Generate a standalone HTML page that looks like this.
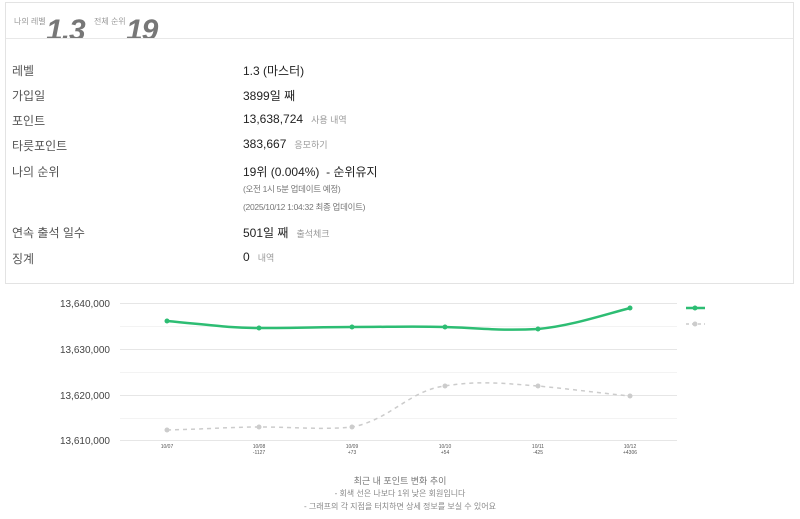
<!DOCTYPE html>
<html><head><meta charset="utf-8"><style>
body{margin:0;width:800px;height:519px;background:#fff;font-family:"Liberation Sans","Noto Sans CJK KR",sans-serif;position:relative;overflow:hidden}
.box{position:absolute;left:5px;top:2px;width:789px;height:282px;border:1px solid #e3e3e3;box-sizing:border-box}
.hdr{position:absolute;left:0;top:0;width:100%;height:35px;border-bottom:1px solid #e8e8e8;overflow:hidden}
.s{position:absolute;font-size:8px;color:#999}
.big{position:absolute;font-size:30px;font-style:italic;font-weight:bold;color:#777;letter-spacing:-1px}
.l{position:absolute;left:12px;font-size:12px;color:#555}
.v{position:absolute;left:243px;font-size:12px;color:#222}
.g{font-size:9px;color:#999;margin-left:8px}
.sm{position:absolute;left:243px;font-size:8.5px;color:#777;letter-spacing:-0.3px}
.cap{position:absolute;left:0;width:800px;text-align:center;color:#888}
</style></head><body>
<div class="box">
<div class="hdr">
<span class="s" style="left:8px;top:13px">나의 레벨</span>
<span class="big" style="left:40px;top:11px">1.3</span>
<span class="s" style="left:88px;top:13px">전체 순위</span>
<span class="big" style="left:120px;top:11px">19</span>
</div>
</div>
<div class="l" style="top:62px">레벨</div><div class="v" style="top:62px">1.3 (마스터)</div>
<div class="l" style="top:87px">가입일</div><div class="v" style="top:87px">3899일 째</div>
<div class="l" style="top:112px">포인트</div><div class="v" style="top:112px">13,638,724<span class="g">사용 내역</span></div>
<div class="l" style="top:137px">타릇포인트</div><div class="v" style="top:137px">383,667<span class="g">응모하기</span></div>
<div class="l" style="top:163px">나의 순위</div><div class="v" style="top:163px">19위 (0.004%) &nbsp;- 순위유지</div>
<div class="sm" style="top:183px">(오전 1시 5분 업데이트 예정)</div>
<div class="sm" style="top:201px">(2025/10/12 1:04:32 최종 업데이트)</div>
<div class="l" style="top:224px">연속 출석 일수</div><div class="v" style="top:224px">501일 째<span class="g">출석체크</span></div>
<div class="l" style="top:250px">징계</div><div class="v" style="top:250px">0<span class="g">내역</span></div>

<svg style="position:absolute;left:0;top:0" width="800" height="519">
<g stroke="#e6e6e6" stroke-width="1">
<line x1="120" x2="677" y1="303.5" y2="303.5"/><line x1="120" x2="677" y1="349.5" y2="349.5"/>
<line x1="120" x2="677" y1="395.5" y2="395.5"/><line x1="120" x2="677" y1="440.5" y2="440.5"/>
</g>
<g stroke="#f3f3f3"><line x1="120" x2="677" y1="326.5" y2="326.5"/><line x1="120" x2="677" y1="372.5" y2="372.5"/><line x1="120" x2="677" y1="418.5" y2="418.5"/></g>
<g font-size="10" fill="#444" text-anchor="end" font-family="Liberation Sans,sans-serif">
<text x="110" y="307">13,640,000</text><text x="110" y="353">13,630,000</text>
<text x="110" y="399">13,620,000</text><text x="110" y="444">13,610,000</text></g>
<path d="M167,430 C210,429 230,427 259,427 C300,427 320,430 352,427 C390,420 410,390 445,386 C480,380 510,384 538,386 C570,389 600,393 630,396" fill="none" stroke="#ccc" stroke-width="1.5" stroke-dasharray="4,4"/>
<g fill="#ccc"><circle cx="167" cy="430" r="2.5"/><circle cx="259" cy="427" r="2.5"/><circle cx="352" cy="427" r="2.5"/><circle cx="445" cy="386" r="2.5"/><circle cx="538" cy="386" r="2.5"/><circle cx="630" cy="396" r="2.5"/></g>
<path d="M167,321 C210,325 230,328 259,328 C300,328 320,327 352,327 C390,327 410,326 445,327 C480,328 500,331 538,329 C570,326 600,316 630,308" fill="none" stroke="#2dbd73" stroke-width="2.5"/>
<g fill="#2dbd73"><circle cx="167" cy="321" r="2.5"/><circle cx="259" cy="328" r="2.5"/><circle cx="352" cy="327" r="2.5"/><circle cx="445" cy="327" r="2.5"/><circle cx="538" cy="329" r="2.5"/><circle cx="630" cy="308" r="2.5"/></g>
<line x1="686" x2="705" y1="308" y2="308" stroke="#2dbd73" stroke-width="2.5"/><circle cx="695" cy="308" r="2.5" fill="#2dbd73"/>
<line x1="686" x2="705" y1="324" y2="324" stroke="#ccc" stroke-width="1.5" stroke-dasharray="3,3"/><circle cx="695" cy="324" r="2.5" fill="#ccc"/>
<g font-size="5" fill="#555" text-anchor="middle" font-family="Liberation Sans,sans-serif">
<text x="167" y="448">10/07</text>
<text x="259" y="448">10/08</text><text x="259" y="454">-1127</text>
<text x="352" y="448">10/09</text><text x="352" y="454">+73</text>
<text x="445" y="448">10/10</text><text x="445" y="454">+54</text>
<text x="538" y="448">10/11</text><text x="538" y="454">-425</text>
<text x="630" y="448">10/12</text><text x="630" y="454">+4306</text>
</g></svg>
<div class="cap" style="top:474px;font-size:9px;color:#777">최근 내 포인트 변화 추이</div>
<div class="cap" style="top:488px;font-size:8px">- 회색 선은 나보다 1위 낮은 회원입니다</div>
<div class="cap" style="top:501px;font-size:8px">- 그래프의 각 지점을 터치하면 상세 정보를 보실 수 있어요</div>
</body></html>
